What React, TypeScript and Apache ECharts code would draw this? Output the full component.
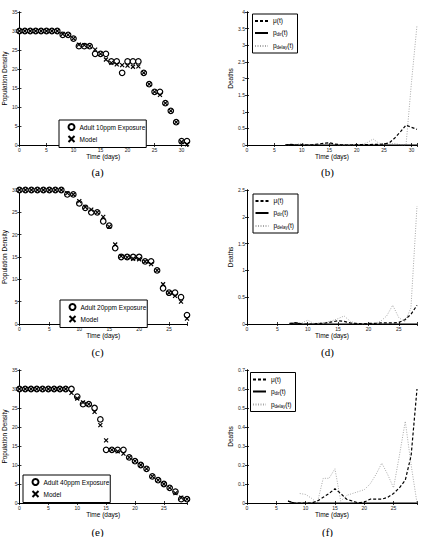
import React, { useEffect, useRef } from 'react';
import * as echarts from 'echarts';

// ---------- data ----------
// Population panels: value per day (index = day)
const aObs = [30,30,30,30,30,30,30,30,29,29,28,26,26,26,24,24,24,22,22,19,22,22,22,19,16,14,14,11,9,6,1,1];
const aModel = [30,30,30,30,30,30,30,30,29.2,29,28,26.4,26.3,26,25.1,24,22.5,21.6,21.2,21,20.9,20.6,20.7,19,16,14,13.2,11,9,6,0.8,0.2];
const cObs = [30,30,30,30,30,30,30,30,29,29,27,26,25,25,23,22,17,15,15,15,15,14,14,12,8,7,7,6,2];
const cModel = [30,30,30,30,30,30,30,30,29.3,29,27.5,26.2,25.6,25,24,21.8,17.8,15.2,14.9,14.6,14.5,14,13.4,12,8.9,7,6.3,5,1.2];
const eObs = [30,30,30,30,30,30,30,30,30,30,28,26,26,25,22,14,14,14,14,12,11,10,9,7,6,5,4,3,1,1];
const eModel = [30,30,30,30,30,30,30,30,30,29,27.5,26.5,26,24,20.5,16.5,14,13.6,13,12,11,10,9,7,6,5,4,2.6,1.4,1];

// Death panels (index = day, null = not plotted)
const N = null;
const bMu = [N,N,N,N,N,N,N,0,0.02,0,0.01,0,0.01,0.03,0.05,0.07,0.03,0.01,0,0,0.01,0.01,0.01,0.02,0.02,0.03,0.07,0.22,0.4,0.6,0.53,0.47];
const bDir = [N,N,N,N,N,N,N,0,0.01,0,0,0,0,0,0,0,0,0,0,0,0,0,0,0,0,0,0,0,0,0,0,0];
const bDelay = [N,N,N,N,N,N,N,0,0.01,0.02,0.05,0,0.01,0.02,0.03,0.06,0.01,0,0,0,0.01,0.02,0.08,0.18,0.06,0.02,0.03,0.05,0,0,1.9,3.6];
const dMu = [N,N,N,N,N,N,N,0.01,0.02,0,0,0,0.01,0.02,0.04,0.06,0.05,0.02,0.01,0,0.01,0.01,0.02,0.02,0.02,0.03,0.08,0.18,0.35];
const dDir = [N,N,N,N,N,N,N,0,0.02,0,0,0,0,0,0,0,0,0,0,0,0,0,0,0,0,0,0,0,0];
const dDelay = [N,N,N,N,N,N,N,0,0.03,0.02,0.07,0.01,0.02,0.03,0.06,0.1,0.15,0.05,0.01,0,0,0.01,0.05,0.15,0.35,0.12,0.04,0.3,2.2];
const fMu = [N,N,N,N,N,N,N,0.01,0,0,0,0,0.01,0.03,0.05,0.075,0.05,0.02,0.01,0,0.005,0.02,0.02,0.02,0.03,0.05,0.08,0.12,0.25,0.6];
const fDir = [N,N,N,N,N,N,N,0.01,0,0,0,0,0,0,0,0,0,0,0,0,0,0,0,0,0,0,0,0,0,0];
const fDelay = [N,N,N,N,N,N,N,N,N,0.05,0.045,0.025,0,0.13,0.13,0.18,0.01,0.04,0.05,0.06,0.07,0.1,0.15,0.21,0.15,0.08,0.25,0.43,0.2,0];

const obsNames = ['Adult 10ppm Exposure', 'Adult 20ppm Exposure', 'Adult 40ppm Exposure'];
const modelName = 'Model';
const deathNames = ['μ(t)', 'p_dir(t)', 'p_delay(t)'];
const captions = ['(a)', '(b)', '(c)', '(d)', '(e)', '(f)'];
const xName = 'Time (days)';

const FONT = '"Liberation Sans", Arial, Helvetica, sans-serif';
const SERIF = '"Liberation Serif", "Times New Roman", serif';

type Panel = {
  left: number; top: number; width: number; height: number;
  xMax: number; yMax: number; yInt: number; yName: string; yGap: number;
};

const panels: Panel[] = [
  { left: 17, top: 12, width: 170, height: 133, xMax: 31, yMax: 35, yInt: 5, yName: 'Population Density', yGap: 7 },
  { left: 247, top: 12, width: 170, height: 133, xMax: 31, yMax: 4, yInt: 0.5, yName: 'Deaths', yGap: 9 },
  { left: 17, top: 190, width: 170, height: 134, xMax: 28, yMax: 30, yInt: 5, yName: 'Population Density', yGap: 7 },
  { left: 247, top: 190, width: 170, height: 134, xMax: 28, yMax: 2.5, yInt: 0.5, yName: 'Deaths', yGap: 9 },
  { left: 17, top: 370, width: 170, height: 133, xMax: 29, yMax: 35, yInt: 5, yName: 'Population Density', yGap: 7 },
  { left: 247, top: 370, width: 170, height: 133, xMax: 29, yMax: 0.7, yInt: 0.1, yName: 'Deaths', yGap: 9 },
];

const pairs = (arr: (number | null)[]) => arr.map((v, i) => [i, v === null ? '-' : v]);

function buildOption() {
  const grids: any[] = [];
  const xAxes: any[] = [];
  const yAxes: any[] = [];
  const axisLine = { show: true, lineStyle: { color: '#000', width: 1 } };
  const tick = { show: true, inside: true, length: 2, lineStyle: { color: '#000', width: 0.8 } };
  panels.forEach((p, i) => {
    grids.push({ left: p.left, top: p.top, width: p.width, height: p.height, containLabel: false });
    const xBase = {
      gridIndex: i, type: 'value', min: 0, max: p.xMax, interval: 5,
      axisLine, axisTick: tick, splitLine: { show: false },
    };
    xAxes.push({
      ...xBase, position: 'bottom',
      axisLabel: {
        fontSize: 5, color: '#222', fontFamily: FONT, margin: 2,
        formatter: (v: number) => (v % 5 === 0 ? String(v) : ''),
      },
      name: xName, nameLocation: 'middle', nameGap: 6,
      nameTextStyle: { fontSize: 6.5, color: '#000', fontFamily: FONT },
    });
    xAxes.push({ ...xBase, position: 'top', axisLabel: { show: false } });
    const yBase = {
      gridIndex: i, type: 'value', min: 0, max: p.yMax, interval: p.yInt,
      axisLine, axisTick: tick, splitLine: { show: false },
    };
    yAxes.push({
      ...yBase, position: 'left',
      axisLabel: { fontSize: 5, color: '#222', fontFamily: FONT, margin: 2 },
      name: p.yName, nameLocation: 'middle', nameGap: p.yGap, nameRotate: 90,
      nameTextStyle: { fontSize: 6.5, color: '#000', fontFamily: FONT },
    });
    yAxes.push({ ...yBase, position: 'right', axisLabel: { show: false } });
  });

  const series: any[] = [];
  const popData = [[aObs, aModel], [cObs, cModel], [eObs, eModel]];
  popData.forEach(([obs, model], k) => {
    const pi = k * 2;
    series.push({
      type: 'scatter', name: obsNames[k], xAxisIndex: pi * 2, yAxisIndex: pi * 2,
      data: pairs(obs), symbol: 'circle', symbolSize: 5.5,
      itemStyle: { color: '#fff', borderColor: '#000', borderWidth: 1.2, opacity: 1 },
    });
    series.push({
      type: 'scatter', name: modelName, xAxisIndex: pi * 2, yAxisIndex: pi * 2,
      data: pairs(model), symbol: 'path://M0 0L10 10M10 0L0 10', symbolSize: 4,
      itemStyle: { color: 'none', borderColor: '#000', borderWidth: 1.2, opacity: 1 },
    });
  });
  const deathData = [[bMu, bDir, bDelay], [dMu, dDir, dDelay], [fMu, fDir, fDelay]];
  deathData.forEach(([mu, dir, delay], k) => {
    const pi = k * 2 + 1;
    series.push({
      type: 'line', name: deathNames[2], xAxisIndex: pi * 2, yAxisIndex: pi * 2,
      data: pairs(delay), symbol: 'none', showSymbol: false,
      lineStyle: { color: '#a8a8a8', width: 1, type: [1, 1.5] }, itemStyle: { color: '#a8a8a8' },
    });
    series.push({
      type: 'line', name: deathNames[1], xAxisIndex: pi * 2, yAxisIndex: pi * 2,
      data: pairs(dir), symbol: 'none', showSymbol: false,
      lineStyle: { color: '#000', width: 1.2, type: 'solid' }, itemStyle: { color: '#000' },
    });
    series.push({
      type: 'line', name: deathNames[0], xAxisIndex: pi * 2, yAxisIndex: pi * 2,
      data: pairs(mu), symbol: 'none', showSymbol: false,
      lineStyle: { color: '#000', width: 1.2, type: [3, 2] }, itemStyle: { color: '#000' },
    });
  });

  const popLegendPos = [[59, 120], [60, 300], [23, 475]];
  const deathLegendPos = [[252.5, 14], [253, 194], [250.5, 372.5]];
  const legends: any[] = [];
  popLegendPos.forEach(([l, t], k) => {
    legends.push({
      left: l, top: t, orient: 'vertical', data: [obsNames[k], modelName],
      itemWidth: 6, itemHeight: 6, itemGap: 2.5, padding: [3, 1, 3, 7],
      borderColor: '#000', borderWidth: 1, backgroundColor: '#fff',
      textStyle: { fontSize: 6.5, color: '#000', fontFamily: FONT },
      selectedMode: false,
    });
  });
  const richMap: Record<string, string> = {
    'μ(t)': '{n|μ(t)}',
    'p_dir(t)': '{n|p}{s|dir}{n|(t)}',
    'p_delay(t)': '{n|p}{s|delay}{n|(t)}',
  };
  deathLegendPos.forEach(([l, t]) => {
    legends.push({
      left: l, top: t, orient: 'vertical', data: deathNames,
      itemWidth: 13, itemHeight: 6, itemGap: 3, padding: [3, 4, 3, 1.5],
      borderColor: '#000', borderWidth: 1, backgroundColor: '#fff',
      itemStyle: { opacity: 0 },
      formatter: (name: string) => richMap[name] || name,
      textStyle: {
        fontSize: 6.5, color: '#000', fontFamily: FONT,
        rich: {
          n: { fontSize: 6.5, fontFamily: FONT, color: '#000', lineHeight: 8, verticalAlign: 'top' },
          s: { fontSize: 4.5, fontFamily: FONT, color: '#000', lineHeight: 5, verticalAlign: 'bottom', padding: [5, 0, 0, 0] },
        },
      },
      selectedMode: false,
    });
  });

  const capPos = [[97.5, 172], [327.5, 172], [97.5, 351.5], [327.5, 351.5], [97.5, 531.5], [327.5, 531.5]];
  const graphic = captions.map((c, i) => ({
    type: 'text', x: capPos[i][0], y: capPos[i][1],
    style: {
      text: c, fontSize: 11, fontFamily: SERIF, fill: '#000',
      textAlign: 'center', textVerticalAlign: 'middle', verticalAlign: 'middle',
    },
  }));

  return {
    animation: false,
    backgroundColor: '#fff',
    grid: grids,
    xAxis: xAxes,
    yAxis: yAxes,
    legend: legends,
    series,
    graphic,
  };
}

export default function App() {
  const ref = useRef<HTMLDivElement>(null);
  useEffect(() => {
    if (!ref.current) return;
    const chart = echarts.init(ref.current, undefined, { renderer: 'svg' });
    chart.setOption(buildOption() as any);
    return () => chart.dispose();
  }, []);
  return (
    <div
      ref={ref}
      style={{ position: 'fixed', left: 0, top: 0, width: 421, height: 537, background: '#fff' }}
    />
  );
}
